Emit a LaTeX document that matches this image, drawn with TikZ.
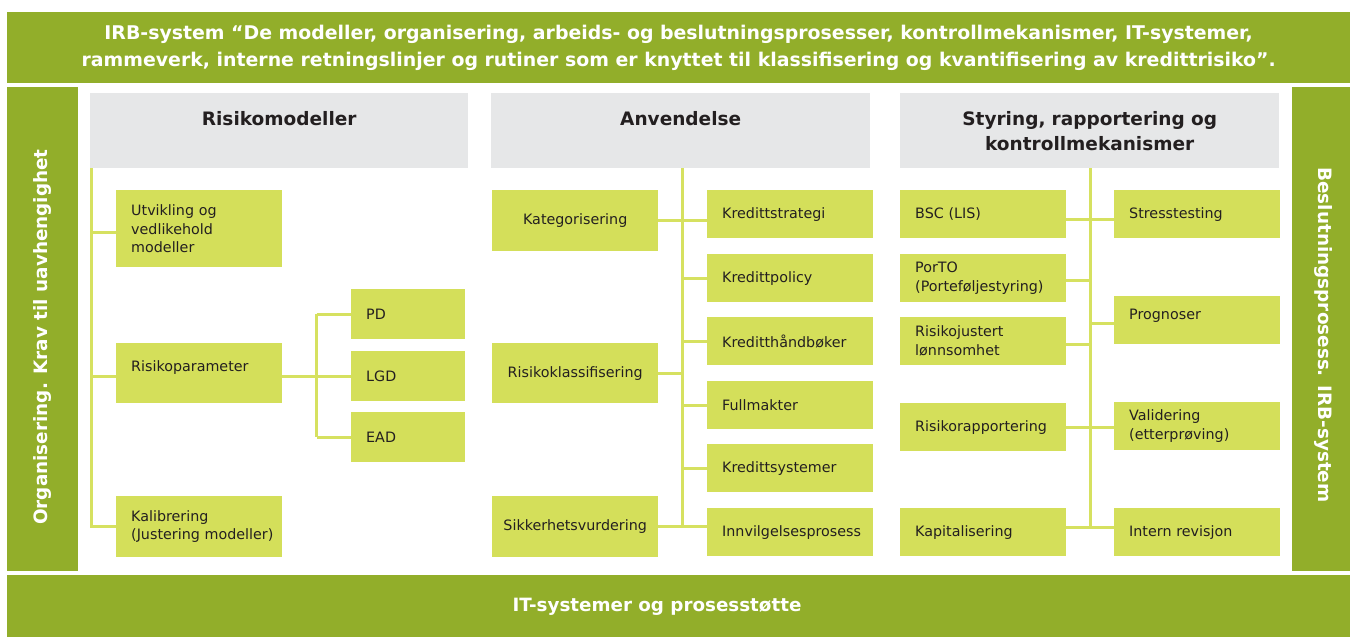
\documentclass[tikz,border=0pt]{standalone}
\usepackage{fontspec}
\setmainfont{DejaVu Sans}
\usetikzlibrary{calc}

\definecolor{irbgreen}{RGB}{146,174,42}
\definecolor{boxgreen}{RGB}{212,223,90}
\definecolor{linkgreen}{RGB}{214,225,96}
\definecolor{headgray}{RGB}{230,231,232}
\definecolor{ink}{RGB}{35,31,32}

\begin{document}
\begin{tikzpicture}[x=1pt, y=-1pt,
  band/.style={fill=irbgreen, draw=none, inner sep=0pt, anchor=north west},
  bandtext/.style={text=white, font=\bfseries\fontsize{18.3}{27}\selectfont, align=center, inner sep=0pt},
  sidetext/.style={text=white, font=\bfseries\fontsize{18.4}{22}\selectfont, inner sep=0pt},
  head/.style 2 args={fill=headgray, draw=none, text=ink, anchor=north west, inner sep=0pt,
    minimum width=#1pt, text width=#1pt, minimum height=#2pt, align=center,
    text height=14pt, text depth=25pt, font=\bfseries\fontsize{18.5}{25}\selectfont},
  item/.style 2 args={fill=boxgreen, draw=none, text=ink, anchor=north west,
    inner xsep=15pt, inner ysep=0pt, align=left,
    minimum width=#1pt, text width=#1pt-30pt, minimum height=#2pt,
    font=\fontsize{14.3}{18.7}\selectfont},
  citem/.style 2 args={item={#1}{#2}, inner xsep=4pt, text width=#1pt-8pt, align=center},
  link/.style={draw=linkgreen, line width=2.8pt},
]
\useasboundingbox (0,0) rectangle (1350,637);
\fill[white] (0,0) rectangle (1350,637);

% frame: definition banner, side bars, bottom banner
\node[band, minimum width=1343pt, minimum height=71pt, text=white, align=center,
  font=\bfseries\fontsize{18.9}{27.5}\selectfont] (topband) at (7,12)
  {IRB-system “De modeller, organisering, arbeids- og beslutningsprosesser, kontrollmekanismer, IT-systemer,\\
   rammeverk, interne retningslinjer og rutiner som er knyttet til klassifisering og kvantifisering av kredittrisiko”.};
\node[band, minimum width=71pt, minimum height=484pt] (leftbar) at (7,87) {};
\node[sidetext, rotate=90] (lefttext) at (42.5,337) {Organisering. Krav til uavhengighet};
\node[band, minimum width=58pt, minimum height=484pt] (rightbar) at (1292,87) {};
\node[sidetext, rotate=-90] (righttext) at (1323,335) {Beslutningsprosess. IRB-system};
\node[band, minimum width=1343pt, minimum height=62pt] (bottomband) at (7,575) {};
\node[bandtext] (bottomtext) at (657,607) {IT-systemer og prosesstøtte};

% column headers
\node[head={378}{75}] (h1) at (90,93) {Risikomodeller};
\node[head={379}{75}] (h2) at (491,93) {Anvendelse};
\node[head={379}{75}] (h3) at (900,93) {Styring, rapportering og\\kontrollmekanismer};

% Risikomodeller
\node[item={166}{77}] (util) at (116,190) {Utvikling og\\vedlikehold\\modeller};
\node[item={166}{60}, text height=11pt, text depth=15pt] (rpar) at (116,343) {Risikoparameter};
\node[item={166}{61}] (kal) at (116,496) {Kalibrering\\\mbox{(Justering modeller)}};
\node[item={114}{50}] (pd) at (351,289) {PD};
\node[item={114}{50}] (lgd) at (351,351) {LGD};
\node[item={114}{50}] (ead) at (351,412) {EAD};

% Anvendelse
\node[citem={166}{61}] (kat) at (492,190) {Kategorisering};
\node[citem={166}{60}] (rk) at (492,343) {Risikoklassifisering};
\node[citem={166}{61}] (sik) at (492,496) {Sikkerhetsvurdering};
\node[item={166}{48}] (ks) at (707,190) {Kredittstrategi};
\node[item={166}{48}] (kp) at (707,254) {Kredittpolicy};
\node[item={166}{48}] (kh) at (707,317) {Kreditthåndbøker};
\node[item={166}{48}] (fm) at (707,381) {Fullmakter};
\node[item={166}{48}] (ksys) at (707,444) {Kredittsystemer};
\node[item={166}{48}] (inn) at (707,508) {Innvilgelsesprosess};

% Styring, rapportering og kontrollmekanismer
\node[item={166}{48}] (bsc) at (900,190) {BSC (LIS)};
\node[item={166}{48}] (porto) at (900,254) {PorTO\\(Porteføljestyring)};
\node[item={166}{48}] (rj) at (900,317) {Risikojustert\\lønnsomhet};
\node[item={166}{48}] (rr) at (900,403) {Risikorapportering};
\node[item={166}{48}] (kap) at (900,508) {Kapitalisering};
\node[item={166}{48}] (st) at (1114,190) {Stresstesting};
\node[item={166}{48}, text height=11pt, text depth=13pt] (prog) at (1114,296) {Prognoser};
\node[item={166}{48}] (val) at (1114,402) {Validering\\(etterprøving)};
\node[item={166}{48}] (ir) at (1114,508) {Intern revisjon};

% trunks under the headers
\coordinate (t1) at ($(h1.south west)+(1.5,0)$);
\coordinate (t2) at ($(kat.east)!0.5!(ks.west)$);
\coordinate (t3) at ($(bsc.east)!0.5!(st.west)$);
\coordinate (br) at ($(rpar.east)!0.5!(lgd.west)$);

\draw[link] (t1) -- (t1 |- kal.west) -- (kal.west);
\draw[link] ([yshift=-3.5pt]util.west) -- ([yshift=-3.5pt]util.west -| t1);
\draw[link] (lgd.west -| t1) -- (lgd.west -| rpar.west);
\draw[link] (lgd.west -| rpar.east) -- (lgd.west);
\draw[link] (br |- pd.west) -- (br |- ead.west);
\draw[link] (br |- pd.west) -- (pd.west);
\draw[link] (br |- ead.west) -- (ead.west);

\draw[link] (t2 |- h2.south) -- (t2 |- sik.east);
\draw[link] (kat.east) -- (kat.east -| ks.west);
\draw[link] (rk.east) -- (rk.east -| t2);
\draw[link] (sik.east) -- (sik.east -| inn.west);
\draw[link] (kp.west -| t2) -- (kp.west);
\draw[link] (kh.west -| t2) -- (kh.west);
\draw[link] (fm.west -| t2) -- (fm.west);
\draw[link] (ksys.west -| t2) -- (ksys.west);

\draw[link] (t3 |- h3.south) -- ([yshift=5pt]t3 |- kap.east);
\draw[link] ([yshift=-5pt]bsc.east) -- ([yshift=-5pt]bsc.east -| st.west);
\draw[link] ([yshift=-2pt]porto.east) -- ([yshift=-2pt]porto.east -| t3);
\draw[link] ([yshift=-3pt]rj.east) -- ([yshift=-3pt]rj.east -| t3);
\draw[link] (rr.east) -- (rr.east -| val.west);
\draw[link] ([yshift=5pt]kap.east) -- ([yshift=5pt]kap.east -| ir.west);
\draw[link] ([yshift=-3pt]prog.west -| t3) -- ([yshift=-3pt]prog.west);
\end{tikzpicture}
\end{document}
